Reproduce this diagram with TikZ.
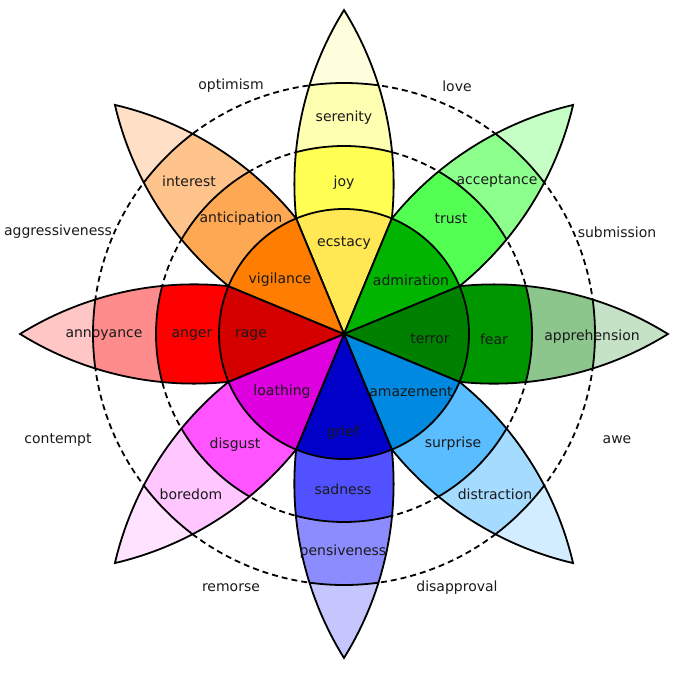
\documentclass[tikz,border=0pt]{standalone}
\usepackage{fontspec}
\setmainfont{DejaVu Sans}
\usetikzlibrary{positioning}
\definecolor{Inchiostro}{HTML}{1A1A1A}
% giallo
\definecolor{GialloA}{HTML}{FFE854}
\definecolor{GialloB}{HTML}{FFFF54}
\definecolor{GialloC}{HTML}{FFFFB1}
\definecolor{GialloD}{HTML}{FFFFDE}
% verde chiaro
\definecolor{VerdeA}{HTML}{00B400}
\definecolor{VerdeB}{HTML}{54FF54}
\definecolor{VerdeC}{HTML}{8CFF8C}
\definecolor{VerdeD}{HTML}{C6FFC6}
% verde scuro
\definecolor{ScuroA}{HTML}{008000}
\definecolor{ScuroB}{HTML}{009600}
\definecolor{ScuroC}{HTML}{8CC68C}
\definecolor{ScuroD}{HTML}{C6E2C6}
% azzurro
\definecolor{AzzurroA}{HTML}{0089E0}
\definecolor{AzzurroB}{HTML}{59BDFF}
\definecolor{AzzurroC}{HTML}{A5DBFF}
\definecolor{AzzurroD}{HTML}{D2EDFF}
% blu
\definecolor{BluA}{HTML}{0000C8}
\definecolor{BluB}{HTML}{5151FF}
\definecolor{BluC}{HTML}{8C8CFF}
\definecolor{BluD}{HTML}{C6C6FF}
% viola
\definecolor{ViolaA}{HTML}{DE00DE}
\definecolor{ViolaB}{HTML}{FF54FF}
\definecolor{ViolaC}{HTML}{FFC6FF}
\definecolor{ViolaD}{HTML}{FFE2FF}
% rosso
\definecolor{RossoA}{HTML}{D40000}
\definecolor{RossoB}{HTML}{FF0000}
\definecolor{RossoC}{HTML}{FF8C8C}
\definecolor{RossoD}{HTML}{FFC6C6}
% arancio
\definecolor{ArancioA}{HTML}{FF7D00}
\definecolor{ArancioB}{HTML}{FFA854}
\definecolor{ArancioC}{HTML}{FFC48C}
\definecolor{ArancioD}{HTML}{FFE0C6}
\tikzset{
    bordo/.style={draw=black, line width=1.8pt, line join=miter},
    banda/.style={draw=black, line width=1.8pt},
    anello/.style={draw=black, line width=1.8pt, dash pattern=on 6pt off 4pt},
    emozione/.style={text=Inchiostro, inner sep=0pt, font=\fontsize{14}{16}\selectfont},
    diade/.style={text=Inchiostro, inner sep=0pt, font=\fontsize{14}{16}\selectfont},
}
\newcommand{\formapetalo}{(0,0) -- (67.5:125) arc[start angle=-6.0, end angle=31.83, radius=329.9] arc[start angle=148.17, end angle=186.0, radius=329.9] -- cycle}
\newcommand{\petalo}[5]{%
    \begin{scope}[rotate=#1]
        \begin{scope}
            \clip \formapetalo;
            \fill[#5] (0,0) circle[radius=330];
            \fill[#4] (0,0) circle[radius=251];
            \fill[#3] (0,0) circle[radius=188];
            \fill[#2] (0,0) circle[radius=125];
            \draw[banda] (0,0) circle[radius=251] (0,0) circle[radius=188] (0,0) circle[radius=125];
        \end{scope}
        \draw[bordo] \formapetalo;
    \end{scope}}

\begin{document}
\begin{tikzpicture}[x=1pt, y=1pt]
    \useasboundingbox (-344,-339) rectangle (336,334);

    % Anelli tratteggiati
    \draw[anello] (0,0) circle[radius=188];
    \draw[anello] (0,0) circle[radius=251];

    % Petali
    \petalo{0}{GialloA}{GialloB}{GialloC}{GialloD}
    \petalo{-45}{VerdeA}{VerdeB}{VerdeC}{VerdeD}
    \petalo{-90}{ScuroA}{ScuroB}{ScuroC}{ScuroD}
    \petalo{-135}{AzzurroA}{AzzurroB}{AzzurroC}{AzzurroD}
    \petalo{180}{BluA}{BluB}{BluC}{BluD}
    \petalo{135}{ViolaA}{ViolaB}{ViolaC}{ViolaD}
    \petalo{90}{RossoA}{RossoB}{RossoC}{RossoD}
    \petalo{45}{ArancioA}{ArancioB}{ArancioC}{ArancioD}

    % Emozioni
    \node[emozione] (serenity) at (0,216) {serenity};
    \node[emozione] (joy) at (0,151) {joy};
    \node[emozione] (ecstacy) at (0,91) {ecstacy};
    \node[emozione] (acceptance) at (153,153) {acceptance};
    \node[emozione] (trust) at (107,115) {trust};
    \node[emozione] (admiration) at (67,54) {admiration};
    \node[emozione] (apprehension) at (248,-3) {apprehension};
    \node[emozione] (fear) at (150,-5) {fear};
    \node[emozione] (terror) at (86,-5) {terror};
    \node[emozione] (amazement) at (67,-58) {amazement};
    \node[emozione] (surprise) at (109,-110) {surprise};
    \node[emozione] (distraction) at (151,-160) {distraction};
    \node[emozione] (grief) at (-1,-99) {grief};
    \node[emozione] (sadness) at (-1,-155) {sadness};
    \node[emozione] (pensiveness) at (-1,-218) {pensiveness};
    \node[emozione] (loathing) at (-62,-58) {loathing};
    \node[emozione] (disgust) at (-109,-111) {disgust};
    \node[emozione] (boredom) at (-153,-160) {boredom};
    \node[emozione] (rage) at (-93,-1) {rage};
    \node[emozione] (anger) at (-152,-1) {anger};
    \node[emozione] (annoyance) at (-240,-1) {annoyance};
    \node[emozione] (vigilance) at (-64,54) {vigilance};
    \node[emozione] (anticipation) at (-103,115) {anticipation};
    \node[emozione] (interest) at (-155,153) {interest};

    % Diadi
    \node[diade] (optimism) at (-113,248) {optimism};
    \node[diade] (love) at (113,248) {love};
    \node[diade] (submission) at (273,102) {submission};
    \node[diade] (awe) at (273,-106) {awe};
    \node[diade] (disapproval) at (113,-254) {disapproval};
    \node[diade] (remorse) at (-113,-254) {remorse};
    \node[diade] (contempt) at (-286,-106) {contempt};
    \node[diade] (aggressiveness) at (-286,102) {aggressiveness};
\end{tikzpicture}
\end{document}
